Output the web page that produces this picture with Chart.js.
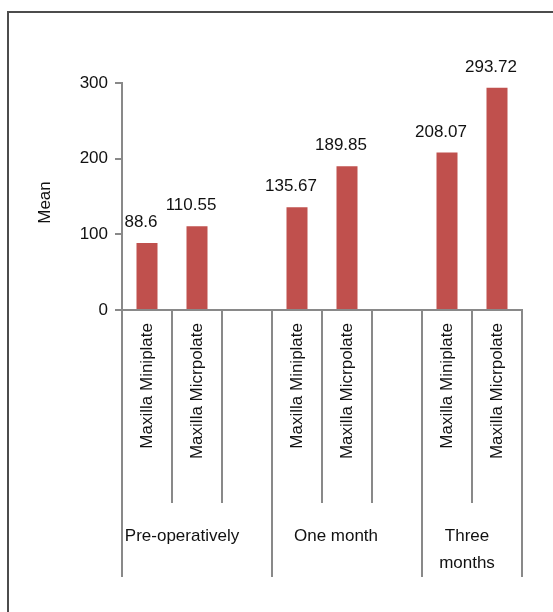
<!DOCTYPE html>
<html>
<head>
<meta charset="utf-8">
<script src="https://cdn.jsdelivr.net/npm/chart.js@4.4.1/dist/chart.umd.min.js"></script>
<style>
  html, body { margin: 0; padding: 0; background: #fff; }
  #wrap { position: relative; width: 553px; height: 612px; overflow: hidden; }
  #wrap canvas { position: absolute; left: 0; top: 0; }
  #frame { position: absolute; left: 7px; top: 11px; right: -4px; bottom: -4px;
           border-left: 2px solid #4c4c4c; border-top: 2px solid #4c4c4c; pointer-events: none; }
</style>
</head>
<body>
<div id="wrap">
  <canvas id="chart" width="553" height="612"></canvas>
  <div id="frame"></div>
</div>
<script>
// --- Data ---
const plates = ['Maxilla Miniplate', 'Maxilla Micrpolate', '',
                'Maxilla Miniplate', 'Maxilla Micrpolate', '',
                'Maxilla Miniplate', 'Maxilla Micrpolate'];
const means = [88.6, 110.55, null, 135.67, 189.85, null, 208.07, 293.72];
const periods = [['Pre-operatively'], ['One month'], ['Three', 'months']];
const periodSlots = [[0, 2], [3, 5], [6, 7]];   // first/last slot of each period
const yTicks = [0, 100, 200, 300];
const yTitle = 'Mean';

const AXIS = '#898989';
const INK = '#111';
const FONT = "'Liberation Sans', Arial, sans-serif";
const periodNudge = [-15, -11, -5];   // label shift from the period centre

// --- value labels above bars ---
const valueLabels = {
  id: 'valueLabels',
  afterDatasetsDraw(chart) {
    const ctx = chart.ctx;
    ctx.save();
    ctx.font = '17px ' + FONT;
    ctx.fillStyle = INK;
    ctx.textAlign = 'center';
    ctx.textBaseline = 'alphabetic';
    chart.getDatasetMeta(0).data.forEach((bar, i) => {
      if (means[i] == null) return;
      ctx.fillText(String(means[i]), bar.x - 6, bar.y - 16);
    });
    ctx.restore();
  }
};

// --- second level of the category axis (periods) + y title ---
const periodAxis = {
  id: 'periodAxis',
  afterDraw(chart) {
    const { ctx, chartArea, scales: { x } } = chart;
    const half = (x.getPixelForValue(1) - x.getPixelForValue(0)) / 2;
    const y0 = x.top, y1 = x.top + 267;
    ctx.save();
    ctx.strokeStyle = AXIS;
    ctx.lineWidth = 2;
    ctx.font = '17px ' + FONT;
    ctx.fillStyle = INK;
    ctx.textAlign = 'center';
    ctx.textBaseline = 'alphabetic';
    periodSlots.forEach(([a, b], k) => {
      const left = x.getPixelForValue(a) - half;
      const right = x.getPixelForValue(b) + half;
      ctx.beginPath();
      ctx.moveTo(left, y0); ctx.lineTo(left, y1);
      if (k === periodSlots.length - 1) { ctx.moveTo(right, y0); ctx.lineTo(right, y1); }
      ctx.stroke();
      periods[k].forEach((line, j) => {
        ctx.fillText(line, (left + right) / 2 + periodNudge[k], y0 + 231 + j * 27);
      });
    });
    // axis title
    ctx.translate(45, (chartArea.top + chartArea.bottom) / 2 + 6);
    ctx.rotate(-Math.PI / 2);
    ctx.textBaseline = 'middle';
    ctx.fillText(yTitle, 0, 0);
    ctx.restore();
  }
};

new Chart(document.getElementById('chart'), {
  type: 'bar',
  data: {
    labels: plates,
    datasets: [{
      data: means,
      backgroundColor: '#c0504d',
      barPercentage: 0.42,
      categoryPercentage: 1
    }]
  },
  options: {
    responsive: false,
    animation: false,
    devicePixelRatio: 1,
    layout: { padding: { top: 83, right: 31, left: 0, bottom: 0 } },
    plugins: { legend: { display: false }, tooltip: { enabled: false } },
    scales: {
      x: {
        grid: { offset: true, drawOnChartArea: false, tickLength: 193, color: AXIS, lineWidth: 2 },
        border: { color: AXIS, width: 2 },
        ticks: { minRotation: 90, maxRotation: 90, autoSkip: false, padding: -180,
                 color: INK, font: { size: 17, family: FONT } },
        afterFit(s) { s.height = 302; }
      },
      y: {
        min: yTicks[0],
        max: yTicks[yTicks.length - 1],
        grid: { drawOnChartArea: false, tickLength: 7, color: AXIS, lineWidth: 2 },
        border: { color: AXIS, width: 2 },
        ticks: { stepSize: yTicks[1] - yTicks[0], padding: 7, color: INK,
                 font: { size: 17, family: FONT } },
        afterFit(s) { s.width = 122; }
      }
    }
  },
  plugins: [valueLabels, periodAxis]
});
</script>
</body>
</html>
